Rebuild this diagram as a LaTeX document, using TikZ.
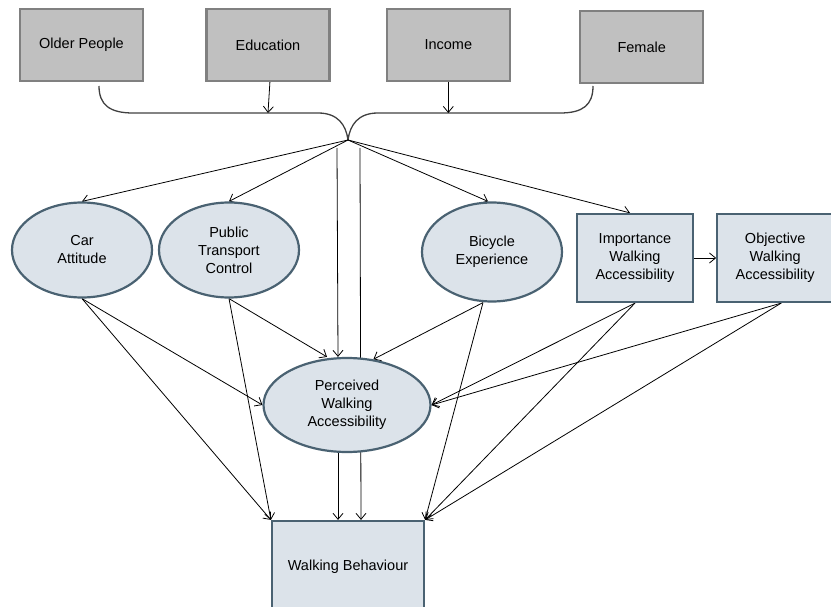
\documentclass[tikz,border=0pt]{standalone}
\usepackage{fontspec}
\setmainfont{Liberation Sans}
\usepackage{tikz}
\usetikzlibrary{arrows.meta,positioning,calc,shapes.geometric,backgrounds}
\definecolor{BoxGray}{HTML}{C0C0C0}
\definecolor{BoxEdge}{HTML}{808080}
\definecolor{PaleBlue}{HTML}{DCE3EA}
\definecolor{Slate}{HTML}{4A6272}

\begin{document}
\begin{tikzpicture}[
  x=1pt, y=-1pt,
  every node/.style={font=\fontsize{14.5}{18}\selectfont, align=center, inner sep=1pt},
  topbox/.style={draw=BoxEdge, fill=BoxGray, line width=2.4pt, minimum width=123pt, minimum height=72pt},
  latent/.style={ellipse, draw=Slate, fill=PaleBlue, line width=2.2pt},
  obsbox/.style={draw=Slate, fill=PaleBlue, line width=2.2pt, minimum width=116pt, minimum height=88pt},
  arrow/.style={-{Straight Barb[length=6pt,width=10pt]}, line width=0.8pt, draw=black},
  bracket/.style={line width=1.3pt, draw=black!75}
]
\useasboundingbox (0,0) rectangle (831,607);
\node[topbox] (older) at (81.5,45) {Older People};
\node[topbox, right=61pt of older] (edu) {Education};
\node[topbox, right=55pt of edu] (inc) {Income};
\node[topbox, right=68pt of inc, yshift=-2pt] (fem) {Female};
\coordinate (hub) at (348,140);
\coordinate (hubl) at (337,148);
\coordinate (hubr) at (360,148);
\coordinate (lstart) at (99,86);
\coordinate (lbar) at (133,113);
\coordinate (rbar) at (560,113);
\coordinate (rstart) at (593,86);
\node[latent, minimum width=140pt, minimum height=95pt] (car) at (82,250) {Car\\Attitude};
\node[latent, minimum width=140pt, minimum height=95pt] (ptc) at (229,250) {Public\\Transport\\Control};
\node[latent, minimum width=140pt, minimum height=99pt] (bic) at (492,252) {Bicycle\\Experience};
\node[obsbox] (imp) at (635,258) {Importance\\Walking\\Accessibility};
\node[obsbox, right=22pt of imp] (obj) {Objective\\Walking\\Accessibility};
\node[latent, minimum width=167pt, minimum height=94pt] (per) at (347,405) {Perceived\\Walking\\Accessibility};
\node[obsbox, minimum width=152pt, minimum height=92pt] (wb) at (348,567) {Walking Behaviour};
\begin{scope}[on background layer]
\draw[bracket] (lstart) .. controls (99,105) and (110,113) .. (lbar) -- (318,113)
  .. controls (338,113) and (346,125) .. (hub);
\draw[bracket] (hub) .. controls (350,125) and (358,113) .. (378,113) -- (rbar)
  .. controls (583,113) and (593,105) .. (rstart);
\draw[arrow] (edu.south) ++(2pt,0) -- (268,113);
\draw[arrow] (inc) -- (inc |- rbar);
\draw[arrow] (hub) -- (car.north);
\draw[arrow] (hub) -- (ptc.north);
\draw[arrow] (hub) -- ([xshift=-4pt]bic.north);
\draw[arrow] (hub) -- ([xshift=-5pt]imp.north);
\draw[arrow] (hubl) -- ([xshift=-9pt]per.north);
\draw[arrow] (hubr) -- ([xshift=13pt]wb.north);
\draw[arrow] (imp) -- (obj);
\draw[arrow] (car.south) -- (per.west);
\draw[arrow] (car.south) -- (wb.north west);
\draw[arrow] (ptc.south) -- ([xshift=-20pt]per.north);
\draw[arrow] (ptc.south) -- (wb.north west);
\draw[arrow] ([xshift=-9pt]bic.south) -- (per.60);
\draw[arrow] ([xshift=-9pt]bic.south) -- (wb.north east);
\draw[arrow] (imp.south) -- (per.east);
\draw[arrow] (imp.south) -- (wb.north east);
\draw[arrow] ([xshift=6pt]obj.south) -- (per.east);
\draw[arrow] ([xshift=6pt]obj.south) -- (wb.north east);
\draw[arrow] ([xshift=-9pt]per.south) -- ([xshift=-10pt]wb.north);
\end{scope}
\end{tikzpicture}
\end{document}
